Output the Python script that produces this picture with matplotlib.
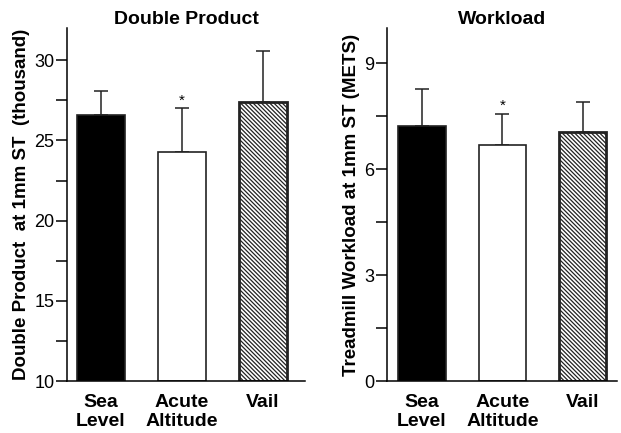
import matplotlib.pyplot as plt
import numpy as np

plt.rcParams['font.family'] = ['Liberation Sans', 'DejaVu Sans']
plt.rcParams['hatch.color'] = '#555555'
plt.rcParams['hatch.linewidth'] = 0.9

categories = ['Sea\nLevel', 'Acute\nAltitude', 'Vail']

dp_means = [26.6, 24.3, 27.4]
dp_err = [1.5, 2.7, 3.2]

wl_means = [7.23, 6.70, 7.05]
wl_err = [1.05, 0.86, 0.87]

significant = [False, True, False]

fig = plt.figure(figsize=(6.21, 4.33), dpi=100)
ax1 = fig.add_axes([0.108, 0.120, 0.383, 0.815])
ax2 = fig.add_axes([0.623, 0.120, 0.371, 0.815])


def draw_panel(ax, means, errs, title, ylabel, ylim, majors, minors, xlim):
    x = np.arange(len(means))
    colors = ['black', 'white', 'white']
    hatches = [None, None, '\\' * 8]
    edge_w = [1.2, 1.2, 2.0]
    for i in range(len(means)):
        ax.bar(x[i], means[i] - ylim[0], bottom=ylim[0], width=0.59,
               color=colors[i], edgecolor='#222222', linewidth=edge_w[i],
               hatch=hatches[i], zorder=2)
    ax.errorbar(x, means, yerr=[np.zeros(len(errs)), errs], fmt='none',
                ecolor='#222222', elinewidth=1.1, capsize=5, capthick=1.1, zorder=1)
    for i, s in enumerate(significant):
        if s:
            ax.text(x[i], means[i] + errs[i] + (ylim[1] - ylim[0]) * 0.003, '*',
                    ha='center', va='bottom', fontsize=11)
    ax.set_xlim(*xlim)
    ax.set_ylim(*ylim)
    ax.set_yticks(majors)
    ax.set_yticks(minors, minor=True)
    ax.set_xticks(x)
    ax.set_xticklabels(categories, fontsize=14, fontweight='bold', linespacing=1.2)
    ax.tick_params(axis='x', length=0, pad=9)
    ax.tick_params(axis='y', which='major', length=8, width=1.1, labelsize=13, pad=1)
    ax.tick_params(axis='y', which='minor', length=8, width=1.1)
    for side in ['top', 'right']:
        ax.spines[side].set_visible(False)
    for side in ['left', 'bottom']:
        ax.spines[side].set_linewidth(1.1)
    ax.set_title(title, fontsize=14, fontweight='bold', pad=3)
    ax.set_ylabel(ylabel, fontsize=13.5, fontweight='bold', labelpad=3)


draw_panel(ax1, dp_means, dp_err, 'Double Product',
           'Double Product  at 1mm ST  (thousand)', (10, 32),
           [10, 15, 20, 25, 30], [12.5, 17.5, 22.5, 27.5], (-0.42, 2.52))
draw_panel(ax2, wl_means, wl_err, 'Workload',
           'Treadmill Workload at 1mm ST (METS)', (0, 10),
           [0, 3, 6, 9], [1.5, 4.5, 7.5], (-0.435, 2.43))

fig.savefig('out.png', dpi=100)
